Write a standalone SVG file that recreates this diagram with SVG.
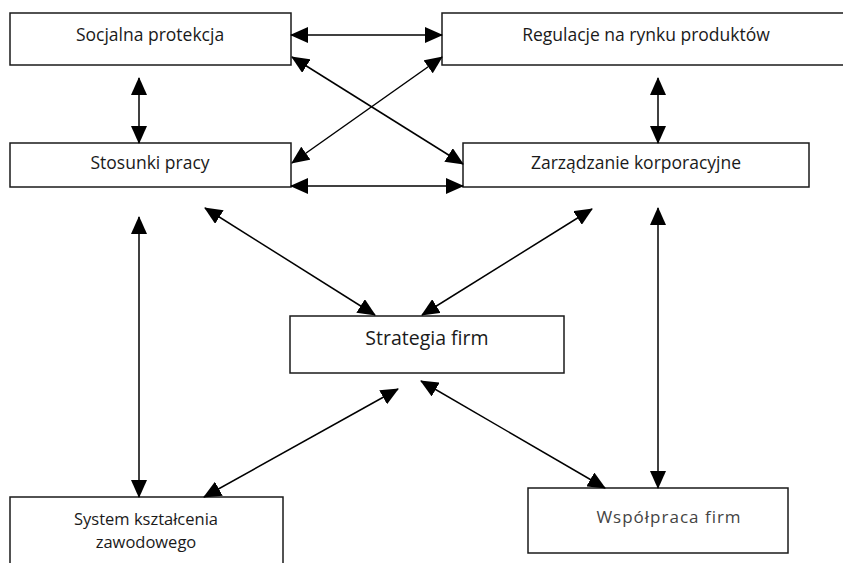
<svg xmlns="http://www.w3.org/2000/svg" width="843" height="563" viewBox="0 0 843 563">
<style>
.box{fill:#fff;stroke:#1a1a1a;stroke-width:1.5}
.lbl{font-family:"Open Sans","Noto Sans",sans-serif;font-size:17.5px;fill:#1a1a1a;text-anchor:middle}
.big{font-size:19.5px}
.sm{font-size:16.5px}
.grey{font-size:17px;fill:#444;letter-spacing:1px}
.con line{stroke:#000;stroke-width:1.5;marker-start:url(#ah);marker-end:url(#ah)}
</style>
<defs>
<marker id="ah" markerUnits="userSpaceOnUse" markerWidth="18" markerHeight="16" refX="17" refY="8" orient="auto-start-reverse" viewBox="0 0 18 16">
<path d="M0,0 L18,8 L0,16 z" fill="#000"/>
</marker>
</defs>
<rect width="843" height="563" fill="#fff"/>
<g id="n-socjalna"><rect class="box" x="10" y="13" width="281" height="52"/><text class="lbl" x="150" y="41">Socjalna protekcja</text></g>
<g id="n-regulacje"><rect class="box" x="442" y="13" width="410" height="52"/><text class="lbl" x="646" y="41">Regulacje na rynku produktów</text></g>
<g id="n-stosunki"><rect class="box" x="10" y="143" width="281" height="44"/><text class="lbl" x="150" y="169">Stosunki pracy</text></g>
<g id="n-zarzadzanie"><rect class="box" x="463" y="143" width="346" height="44"/><text class="lbl" x="636" y="169">Zarządzanie korporacyjne</text></g>
<g id="n-strategia"><rect class="box" x="290" y="316" width="274" height="57"/><text class="lbl big" x="427" y="345">Strategia firm</text></g>
<g id="n-system"><rect class="box" x="10" y="497" width="273" height="80"/><text class="lbl sm" x="146" y="525"><tspan x="146">System kształcenia</tspan><tspan x="146" dy="23">zawodowego</tspan></text></g>
<g id="n-wspolpraca"><rect class="box" x="528" y="488" width="260" height="65"/><text class="lbl grey" x="669" y="523">Współpraca firm</text></g>
<g class="con" id="connectors">
<line x1="291" y1="35" x2="442" y2="35"/>
<line x1="139" y1="78" x2="139" y2="143"/>
<line x1="658" y1="78" x2="658" y2="143"/>
<line x1="292" y1="57" x2="463" y2="164"/>
<line x1="442" y1="57" x2="292" y2="163"/>
<line x1="291" y1="186" x2="463" y2="186"/>
<line x1="139" y1="217" x2="139" y2="497"/>
<line x1="205" y1="208" x2="375" y2="315"/>
<line x1="592" y1="209" x2="422" y2="315"/>
<line x1="658" y1="208" x2="658" y2="488"/>
<line x1="398" y1="389" x2="204" y2="497"/>
<line x1="421" y1="381" x2="605" y2="488"/>
</g>
</svg>
